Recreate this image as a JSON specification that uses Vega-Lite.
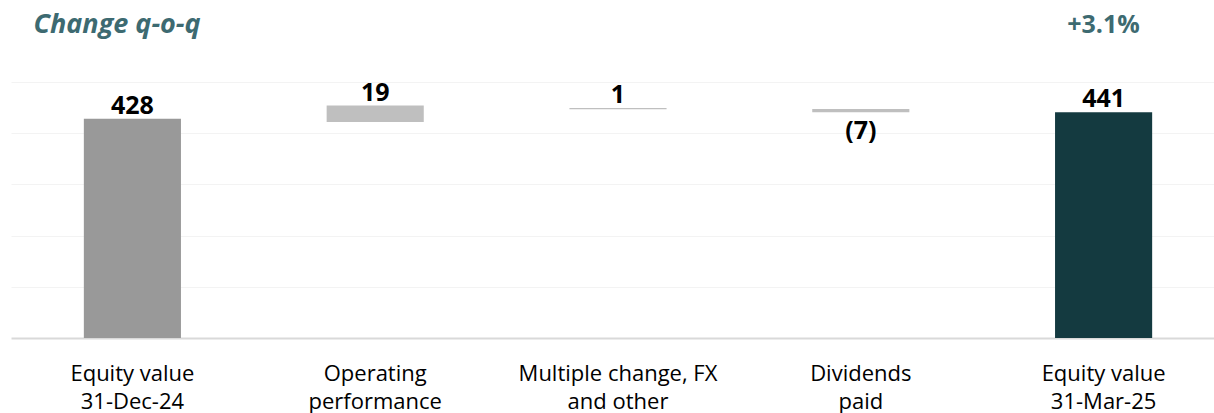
{
  "$schema": "https://vega.github.io/schema/vega-lite/v6.json",
  "width": 1202,
  "height": 256,
  "autosize": "none",
  "padding": {"left": 12, "top": 82, "right": 0, "bottom": 75},
  "background": "white",
  "config": {"view": {"stroke": null}, "font": "Open Sans"},
  "data": {
    "values": [
      {"category": "Equity value\n31-Dec-24", "start": 0, "end": 428, "label": "428", "type": "total", "dir": "up"},
      {"category": "Operating\nperformance", "start": 422, "end": 454, "label": "19", "type": "change", "dir": "up"},
      {"category": "Multiple change, FX\nand other", "start": 447, "end": 449, "label": "1", "type": "change", "dir": "up"},
      {"category": "Dividends\npaid", "start": 447.5, "end": 441, "label": "(7)", "type": "change", "dir": "down"},
      {"category": "Equity value\n31-Mar-25", "start": 0, "end": 441, "label": "441", "type": "final", "dir": "up"}
    ]
  },
  "encoding": {
    "x": {
      "field": "category",
      "type": "nominal",
      "sort": null,
      "scale": {"range": [-1, 1213], "paddingInner": 0.6, "paddingOuter": 0.3},
      "axis": {
        "title": null,
        "labelExpr": "split(datum.label, '\\n')",
        "labelAngle": 0,
        "labelFont": "Open Sans",
        "labelFontSize": 22,
        "labelColor": "#000000",
        "labelLineHeight": 28,
        "labelPadding": 25,
        "labelLimit": 0,
        "ticks": false,
        "domainColor": "#d9d9d9",
        "domainWidth": 2,
        "grid": false
      }
    }
  },
  "layer": [
    {
      "mark": {"type": "bar"},
      "encoding": {
        "y": {
          "field": "start",
          "type": "quantitative",
          "scale": {"domain": [0, 500], "nice": false},
          "axis": {
            "title": "Change q-o-q",
            "titleAngle": 0,
            "titleX": 21,
            "titleY": -58,
            "titleAlign": "left",
            "titleBaseline": "middle",
            "titleFont": "Open Sans",
            "titleFontSize": 27,
            "titleFontWeight": "bold",
            "titleFontStyle": "italic",
            "titleColor": "#3d6a71",
            "labels": false,
            "ticks": false,
            "domain": false,
            "grid": true,
            "gridColor": "#f3f3f3",
            "gridWidth": 1,
            "values": [100, 200, 300, 400, 500]
          }
        },
        "y2": {"field": "end"},
        "color": {
          "field": "type",
          "type": "nominal",
          "scale": {"domain": ["total", "change", "final"], "range": ["#999999", "#bfbfbf", "#143a40"]},
          "legend": null
        }
      }
    },
    {
      "transform": [{"filter": "datum.dir == 'up'"}],
      "mark": {"type": "text", "baseline": "alphabetic", "dy": -5, "fontSize": 25, "fontWeight": "bold", "color": "#000000", "font": "Open Sans"},
      "encoding": {
        "y": {
          "field": "end",
          "type": "quantitative",
          "axis": {
            "orient": "right",
            "title": "+3.1%",
            "titleAngle": 0,
            "titleX": -111,
            "titleY": -58,
            "titleAlign": "center",
            "titleBaseline": "middle",
            "titleFont": "Open Sans",
            "titleFontSize": 25,
            "titleFontWeight": "bold",
            "titleColor": "#3d6a71",
            "labels": false,
            "ticks": false,
            "domain": false,
            "grid": false
          }
        },
        "text": {"field": "label"}
      }
    },
    {
      "transform": [{"filter": "datum.dir == 'down'"}],
      "mark": {"type": "text", "baseline": "alphabetic", "dy": 27, "fontSize": 25, "fontWeight": "bold", "color": "#000000", "font": "Open Sans"},
      "encoding": {
        "y": {"field": "end", "type": "quantitative", "axis": null},
        "text": {"field": "label"}
      }
    }
  ],
  "resolve": {"axis": {"y": "independent"}}
}
